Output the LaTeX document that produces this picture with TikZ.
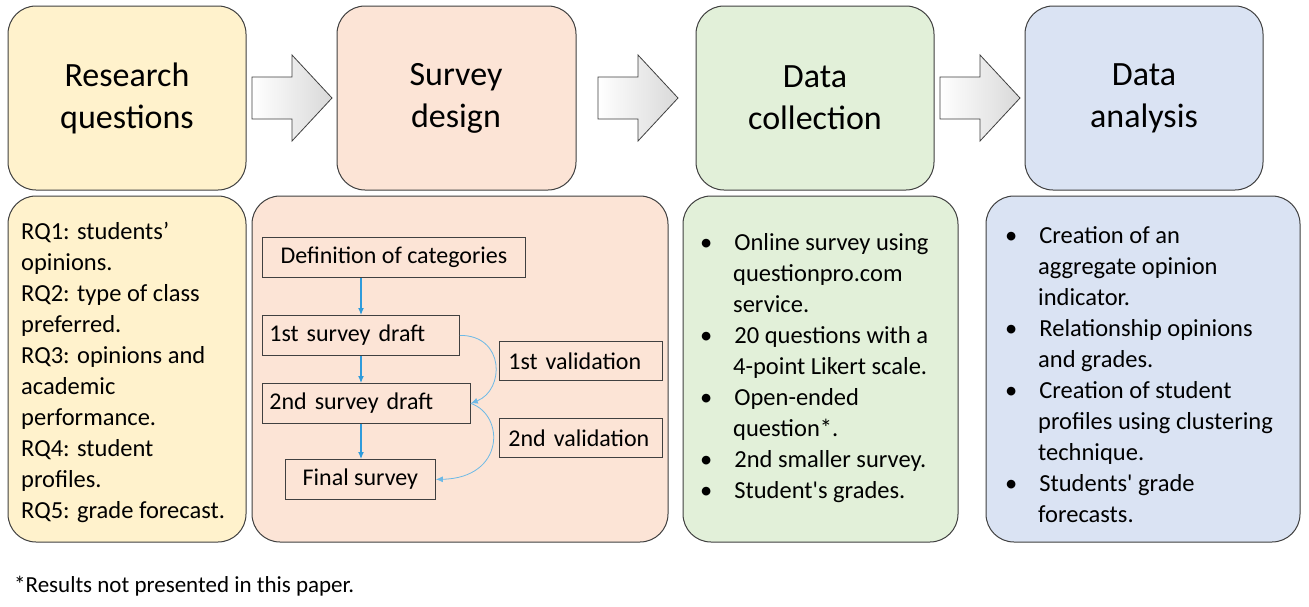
\documentclass[tikz,border=0pt]{standalone}
\usepackage{fontspec}
\setmainfont{Carlito}
\usetikzlibrary{arrows.meta}
\definecolor{cy}{HTML}{FFF2CC}
\definecolor{co}{HTML}{FCE4D6}
\definecolor{cg}{HTML}{E2F0D9}
\definecolor{cb}{HTML}{DAE3F3}
\definecolor{ln}{HTML}{404040}
\definecolor{ab}{HTML}{2E9BDB}
\begin{document}
\begin{tikzpicture}[x=1pt,y=-1pt,
 big/.style={draw=ln,line width=1pt,rounded corners=28pt},
 ttl/.style={font=\fontsize{34}{42}\selectfont,align=center},
 body/.style={font=\fontsize{24.5}{31}\selectfont,align=left,anchor=north west,inner sep=0pt},
 sb/.style={draw=ln,line width=0.8pt,anchor=north west,minimum height=40pt,inner sep=0pt,font=\fontsize{24}{26}\selectfont},
 va/.style={-{Latex[length=7pt,width=6pt]},draw=ab,line width=1.2pt},
 ca/.style={-{Latex[length=7pt,width=6pt]},draw=ab!70,line width=0.8pt},
 blk/.style={draw=ln,line width=0.8pt,left color=white,right color=gray!30}]
\useasboundingbox (0,0) rectangle (1309,606);
\fill[white] (0,0) rectangle (1309,606);
% top boxes
\draw[big,fill=cy] (8,6) rectangle (246,190);
\node[ttl] (t1) at (127,98) {Research\\questions};
\draw[big,fill=co] (337,6) rectangle (576,190);
\node[ttl] (t2) at (456,98) {Survey\\design};
\draw[big,fill=cg] (696,6) rectangle (934,190);
\node[ttl] (t3) at (815,98) {Data\\collection};
\draw[big,fill=cb] (1025,6) rectangle (1263,190);
\node[ttl] (t4) at (1144,98) {Data\\analysis};
% block arrows
\foreach \x in {252,598,940}{
 \draw[blk] (\x,77) -- (\x+40,77) -- (\x+40,55) -- (\x+80,98) -- (\x+40,141) -- (\x+40,119) -- (\x,119) -- cycle;}
% bottom boxes
\draw[big,fill=cy] (8,196) rectangle (246,542);
\node[body] (b1) at (21,222) {RQ1: students\textquoteright\\opinions.\\RQ2: type of class\\preferred.\\RQ3: opinions and\\academic\\performance.\\RQ4: student\\profiles.\\RQ5: grade forecast.};
\draw[big,fill=co] (252,196) rectangle (668,542);
\draw[big,fill=cg] (683,196) rectangle (958,542);
\node[body] (b3) at (700,233) {\textbullet\hspace{22pt}Online survey using\\\hspace{33pt}questionpro.com\\\hspace{33pt}service.\\\textbullet\hspace{22pt}20 questions with a\\\hspace{33pt}4-point Likert scale.\\\textbullet\hspace{22pt}Open-ended\\\hspace{33pt}question*.\\\textbullet\hspace{22pt}2nd smaller survey.\\\textbullet\hspace{22pt}Student\textquotesingle s grades.};
\draw[big,fill=cb] (986,196) rectangle (1300,542);
\node[body] (b4) at (1005,226) {\textbullet\hspace{22pt}Creation of an\\\hspace{33pt}aggregate opinion\\\hspace{33pt}indicator.\\\textbullet\hspace{22pt}Relationship opinions\\\hspace{33pt}and grades.\\\textbullet\hspace{22pt}Creation of student\\\hspace{33pt}profiles using clustering\\\hspace{33pt}technique.\\\textbullet\hspace{22pt}Students\textquotesingle\ grade\\\hspace{33pt}forecasts.};
% survey steps
\node[sb,minimum width=263pt] (d) at (262,237) {Definition of categories};
\node[sb,minimum width=197pt,text width=187pt] (s1) at (262,315) {\hspace{2pt}1st survey draft};
\node[sb,minimum width=208pt,text width=198pt] (s2) at (262,383) {\hspace{2pt}2nd survey draft};
\node[sb,minimum width=150pt] (f) at (285,459) {Final survey};
\node[sb,minimum width=163pt,minimum height=39pt,text width=153pt] (v1) at (499,341) {\hspace{4pt}1st validation};
\node[sb,minimum width=163pt,minimum height=39pt,text width=153pt] (v2) at (499,418) {\hspace{4pt}2nd validation};
\draw[va] (d.south -| 361,0) -- (s1.north -| 361,0);
\draw[va] (s1.south -| 361,0) -- (s2.north -| 361,0);
\draw[va] (s2.south -| 361,0) -- (f.north -| 361,0);
\draw[ca] (s1.east) .. controls (505,335) and (505,390) .. (s2.east);
\draw[ca] (s2.east) .. controls (505,415) and (505,478) .. (f.east);
\node[anchor=west,inner sep=0pt,font=\fontsize{23}{25}\selectfont] (note) at (14,586) {*Results not presented in this paper.};
\end{tikzpicture}
\end{document}
